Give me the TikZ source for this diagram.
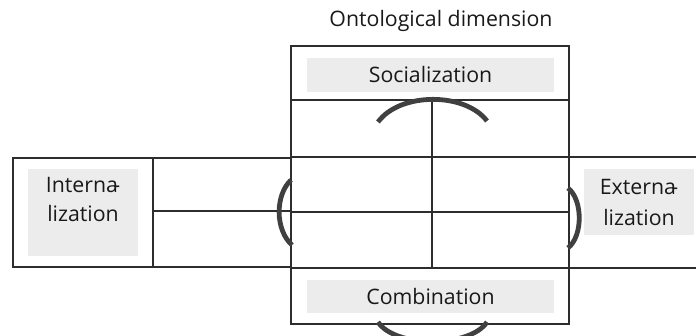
\documentclass[tikz,border=0pt]{standalone}
\usepackage{fontspec}
\setmainfont{Open Sans}
\usetikzlibrary{positioning}
\definecolor{linegray}{RGB}{45,45,45}
\definecolor{tagfill}{RGB}{236,236,236}
\definecolor{textgray}{RGB}{25,25,25}
\definecolor{arcgray}{RGB}{64,64,64}
\tikzset{
  cell/.style={draw=linegray, line width=1.9pt, inner sep=0pt, outer sep=0pt, anchor=north west},
  tag/.style={fill=tagfill, inner sep=0pt, text=textgray, align=center,
    font=\fontsize{21.3}{31}\selectfont},
  turn/.style={draw=arcgray, line width=4.8pt}
}

\begin{document}
\begin{tikzpicture}[x=1pt, y=-1pt]
  \clip (0,0) rectangle (696,335);
  % middle column
  \node[cell, minimum width=278, minimum height=54] (soc) at (291,46) {};
  \node[cell, minimum width=141, minimum height=57] (socL) at (291,100) {};
  \node[cell, minimum width=137, minimum height=57] (socR) at (432,100) {};
  \node[cell, minimum width=141, minimum height=55] (midTL) at (291,157) {};
  \node[cell, minimum width=137, minimum height=55] (midTR) at (432,157) {};
  \node[cell, minimum width=141, minimum height=56] (midBL) at (291,212) {};
  \node[cell, minimum width=137, minimum height=56] (midBR) at (432,212) {};
  \node[cell, minimum width=278, minimum height=56] (comb) at (291,268) {};
  % left row
  \node[cell, minimum width=140, minimum height=109] (intern) at (13,158) {};
  \node[cell, minimum width=138, minimum height=53] (inTop) at (153,158) {};
  \node[cell, minimum width=138, minimum height=56] (inBot) at (153,211) {};
  % right row
  \coordinate (rimTop) at (696,157);
  \coordinate (rimBot) at (696,268);
  \draw[linegray, line width=1.9pt] (midTR.north east) -- (rimTop);
  \draw[linegray, line width=1.9pt] (midBR.south east) -- (rimBot);
  % labels
  \node[font=\fontsize{21.3}{25}\selectfont, text=textgray] (title) at (441,21) {Ontological dimension};
  \node[tag, minimum width=247, minimum height=34] (socTag) at (430.5,75) {Socialization};
  \node[tag, minimum width=247, minimum height=33] (combTag) at (430.5,296.5) {Combination};
  \node[tag, minimum width=110, minimum height=87] (internTag) at (83,212.5) {};
  \node[text=textgray, align=center, font=\fontsize{21.3}{29}\selectfont] (internText) at (83,199) {Interna\kern-.22em-\\lization};
  \node[tag, minimum width=110, minimum height=66] (externTag) at (639,202) {Externa\kern-.22em-\\lization};
  % turning arcs
  \draw[turn] (378,122) .. controls (400,92) and (465,92) .. (487,121);
  \draw[turn] (291,180) .. controls (275,195) and (275,230) .. (292,245);
  \draw[turn] (568,188) .. controls (583,200) and (583,236) .. (568,248);
  \draw[turn] (378,322) .. controls (395,348) and (470,348) .. (487,322);
\end{tikzpicture}
\end{document}
